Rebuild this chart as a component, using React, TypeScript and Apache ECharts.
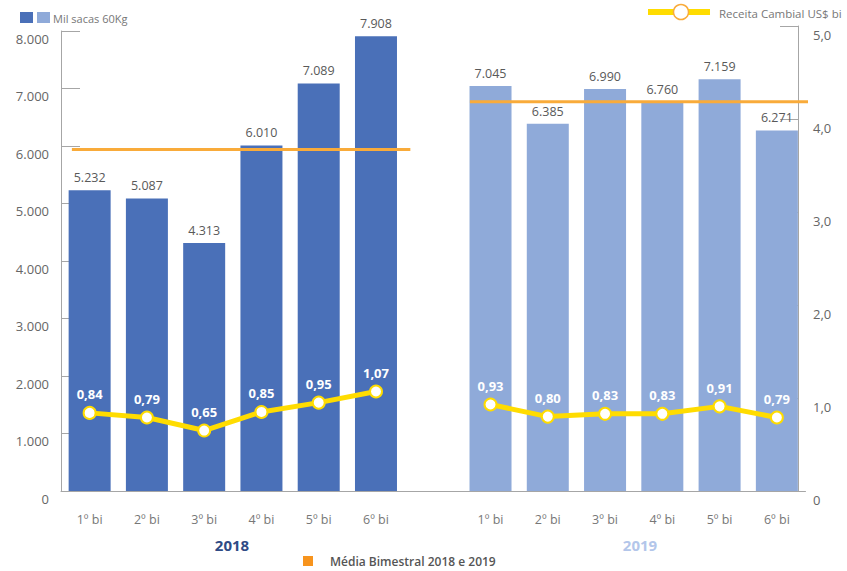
import React, { useEffect, useRef } from "react";
import * as echarts from "echarts";

const categories = ["1º bi", "2º bi", "3º bi", "4º bi", "5º bi", "6º bi", "", "1º bi", "2º bi", "3º bi", "4º bi", "5º bi", "6º bi"];
const sacas2018 = [5232, 5087, 4313, 6010, 7089, 7908, null, null, null, null, null, null, null];
const sacas2019 = [null, null, null, null, null, null, null, 7045, 6385, 6990, 6760, 7159, 6271];
const receita = [0.84, 0.79, 0.65, 0.85, 0.95, 1.07, null, 0.93, 0.8, 0.83, 0.83, 0.91, 0.79];
const leftTicks = { min: 0, max: 8000, interval: 1000 };
const rightTicks = { min: 0, max: 5, interval: 1 };

const values2018 = sacas2018.filter((v) => v != null) as number[];
const values2019 = sacas2019.filter((v) => v != null) as number[];
const mean = (a: number[]) => a.reduce((s, v) => s + v, 0) / a.length;
const avg2018 = mean(values2018);
const avg2019 = mean(values2019);
// horizontal extent of each average line on a hidden 0..13 slot axis
const avgSpan2018 = [0.19, 6.1];
const avgSpan2019 = [7.14, 13.08];

const DARK = "#4a70b8";
const LIGHT = "#8faad9";
const YELLOW = "#ffdc00";
const ORANGE = "#f9ab3a";
const AXIS = "#a6a6a6";
const FONT = "Open Sans";

const fmtThousands = (v: number) => v.toLocaleString("pt-BR");
const fmtDec = (v: number) => (v === 0 ? "0" : v.toFixed(1).replace(".", ","));

export default function App() {
  const ref = useRef<HTMLDivElement>(null);
  useEffect(() => {
    document.body.style.margin = "0";
    const chart = echarts.init(ref.current!, undefined, { renderer: "svg" });
    chart.setOption({
      animation: false,
      textStyle: { fontFamily: FONT },
      grid: [
        { left: 61, right: 41.5, top: 31, bottom: 80 },
        { left: 61, right: 41.5, top: 26, bottom: 80 },
      ],
      xAxis: [
        {
          type: "category",
          gridIndex: 0,
          data: categories,
          boundaryGap: true,
          axisLine: { lineStyle: { color: AXIS, width: 1 } },
          axisTick: { show: false },
          axisLabel: { color: "#777", fontSize: 12.5, margin: 22, fontFamily: FONT, interval: 0 },
        },
        { type: "value", gridIndex: 0, min: 0, max: 13, show: false },
        { type: "category", gridIndex: 1, data: categories, boundaryGap: true, show: false },
      ],
      yAxis: [
        {
          type: "value",
          gridIndex: 0,
          position: "left",
          ...leftTicks,
          splitLine: { show: false },
          axisLine: { show: true, lineStyle: { color: AXIS } },
          axisTick: { show: true, inside: true, length: 19, lineStyle: { color: AXIS } },
          axisLabel: {
            color: "#666",
            fontSize: 13,
            margin: 12,
            verticalAlign: "top",
            padding: [1, 0, 0, 0],
            formatter: (v: number) => fmtThousands(v),
          },
        },
        {
          type: "value",
          gridIndex: 1,
          position: "right",
          offset: -7.5,
          ...rightTicks,
          splitLine: { show: false },
          axisLine: { show: true, lineStyle: { color: AXIS } },
          axisTick: { show: true, inside: true, length: 18, lineStyle: { color: AXIS } },
          axisLabel: {
            color: "#666",
            fontSize: 13,
            margin: 15,
            verticalAlign: "top",
            padding: [2, 0, 0, 0],
            formatter: (v: number) => fmtDec(v),
          },
        },
      ],
      series: [
        {
          name: "2018",
          type: "bar",
          xAxisIndex: 0,
          yAxisIndex: 0,
          data: sacas2018,
          barWidth: 42,
          barGap: "-100%",
          itemStyle: { color: DARK },
          label: {
            show: true,
            position: "top",
            distance: 6,
            color: "#595959",
            fontSize: 12.5,
            fontFamily: FONT,
            formatter: (p: any) => fmtThousands(p.value),
          },
        },
        {
          name: "2019",
          type: "bar",
          xAxisIndex: 0,
          yAxisIndex: 0,
          data: sacas2019,
          barWidth: 42,
          barGap: "-100%",
          itemStyle: { color: LIGHT },
          label: {
            show: true,
            position: "top",
            distance: 6,
            color: "#595959",
            fontSize: 12.5,
            fontFamily: FONT,
            formatter: (p: any) => fmtThousands(p.value),
          },
        },
        {
          name: "Média 2018",
          type: "line",
          xAxisIndex: 1,
          yAxisIndex: 0,
          data: [
            [avgSpan2018[0], avg2018],
            [avgSpan2018[1], avg2018],
          ],
          symbol: "none",
          clip: false,
          lineStyle: { color: ORANGE, width: 3 },
          z: 4,
        },
        {
          name: "Média 2019",
          type: "line",
          xAxisIndex: 1,
          yAxisIndex: 0,
          data: [
            [avgSpan2019[0], avg2019],
            [avgSpan2019[1], avg2019],
          ],
          symbol: "none",
          clip: false,
          lineStyle: { color: ORANGE, width: 3 },
          z: 4,
        },
        {
          name: "Receita Cambial US$ bi",
          type: "line",
          xAxisIndex: 2,
          yAxisIndex: 1,
          data: receita,
          connectNulls: false,
          symbol: "circle",
          symbolSize: 12,
          lineStyle: { color: YELLOW, width: 5 },
          itemStyle: { color: "#ffffff", borderColor: YELLOW, borderWidth: 2 },
          label: {
            show: true,
            position: "top",
            distance: 5,
            color: "#ffffff",
            fontWeight: "bold",
            fontSize: 13,
            fontFamily: FONT,
            formatter: (p: any) => (p.value == null ? "" : Number(p.value).toFixed(2).replace(".", ",")),
          },
          z: 6,
        },
      ],
      graphic: [
        { type: "rect", shape: { x: 20, y: 12, width: 13, height: 11 }, style: { fill: DARK } },
        { type: "rect", shape: { x: 37, y: 12, width: 13, height: 11 }, style: { fill: LIGHT } },
        {
          type: "text",
          x: 53,
          y: 18,
          style: { text: "Mil sacas 60Kg", fill: "#777", fontSize: 11, fontFamily: FONT, verticalAlign: "middle" },
        },
        {
          type: "line",
          shape: { x1: 648, y1: 12, x2: 710, y2: 12 },
          style: { stroke: YELLOW, lineWidth: 6 },
        },
        {
          type: "circle",
          shape: { cx: 681, cy: 12, r: 7.5 },
          style: { fill: "#ffffff", stroke: ORANGE, lineWidth: 1.5 },
        },
        {
          type: "text",
          x: 719,
          y: 13,
          style: { text: "Receita Cambial US$ bi", fill: "#777", fontSize: 11.5, fontFamily: FONT, verticalAlign: "middle" },
        },
        {
          type: "text",
          x: 232,
          y: 545,
          style: {
            text: "2018",
            fill: "#2f4b85",
            fontSize: 15,
            fontWeight: "bold",
            fontFamily: FONT,
            align: "center",
            verticalAlign: "middle",
          },
        },
        {
          type: "text",
          x: 640,
          y: 545,
          style: {
            text: "2019",
            fill: "#b3c6ea",
            fontSize: 15,
            fontWeight: "bold",
            fontFamily: FONT,
            align: "center",
            verticalAlign: "middle",
          },
        },
        { type: "rect", shape: { x: 303, y: 556, width: 10, height: 10 }, style: { fill: "#f7941d" } },
        {
          type: "text",
          x: 330,
          y: 561,
          style: {
            text: "Média Bimestral 2018 e 2019",
            fill: "#555",
            fontSize: 12,
            fontWeight: 600,
            fontFamily: FONT,
            verticalAlign: "middle",
          },
        },
      ],
    });
    return () => chart.dispose();
  }, []);
  return <div ref={ref} style={{ width: 847, height: 571 }} />;
}
